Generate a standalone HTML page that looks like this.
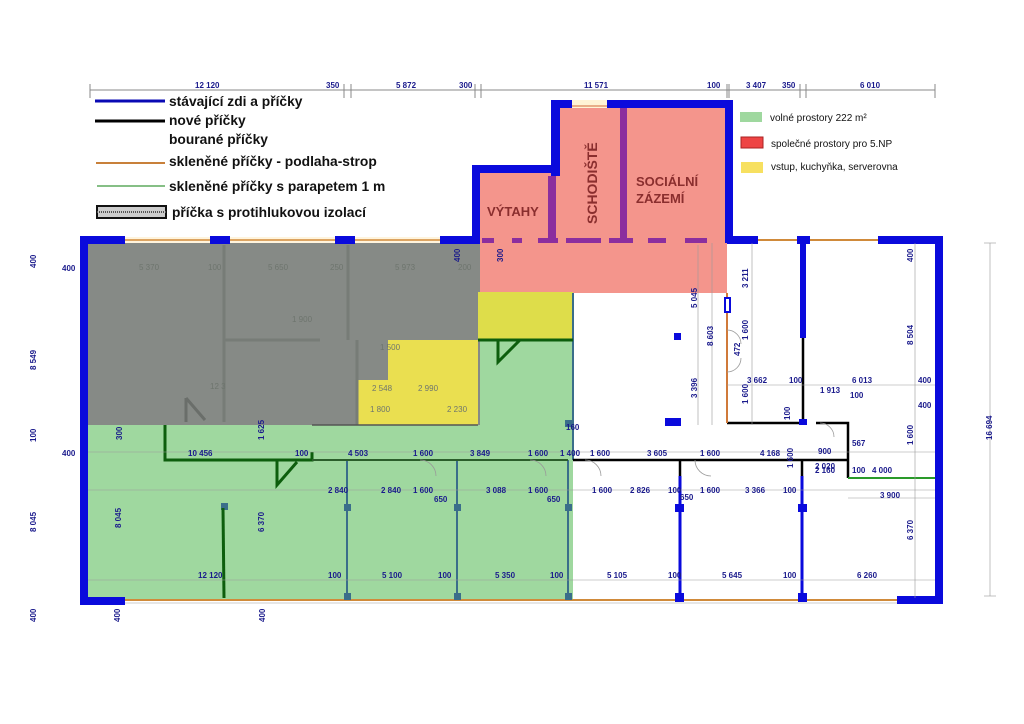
<!DOCTYPE html>
<html><head><meta charset="utf-8"><style>
html,body{margin:0;padding:0;background:#fff;}
svg{display:block;}
.d{font-family:"Liberation Sans",sans-serif;font-size:8px;fill:#1a1a8c;font-weight:bold;}
.g{font-family:"Liberation Sans",sans-serif;font-size:8px;fill:#6e756e;}
.L{font-family:"Liberation Sans",sans-serif;font-size:13.8px;font-weight:bold;fill:#111;}
.R{font-family:"Liberation Sans",sans-serif;font-size:10px;fill:#111;}
.P{font-family:"Liberation Sans",sans-serif;font-size:13px;fill:#8a2e2e;font-weight:bold;}
</style></head><body>
<svg width="1024" height="724" viewBox="0 0 1024 724" xmlns="http://www.w3.org/2000/svg">
<line x1="90" y1="90" x2="935" y2="90" stroke="#888" stroke-width="1"/>
<g stroke="#888"><line x1="90" y1="84" x2="90" y2="98"/><line x1="344" y1="84" x2="344" y2="98"/><line x1="351" y1="84" x2="351" y2="98"/><line x1="475" y1="84" x2="475" y2="98"/><line x1="481" y1="84" x2="481" y2="98"/><line x1="727" y1="84" x2="727" y2="98"/><line x1="729" y1="84" x2="729" y2="98"/><line x1="800" y1="84" x2="800" y2="98"/><line x1="806" y1="84" x2="806" y2="98"/><line x1="935" y1="84" x2="935" y2="98"/></g>
<text class="d" x="195" y="88">12 120</text><text class="d" x="326" y="88">350</text><text class="d" x="396" y="88">5 872</text><text class="d" x="459" y="88">300</text><text class="d" x="584" y="88">11 571</text><text class="d" x="707" y="88">100</text><text class="d" x="746" y="88">3 407</text><text class="d" x="782" y="88">350</text><text class="d" x="860" y="88">6 010</text>
<line x1="95" y1="101" x2="165" y2="101" stroke="#0a0ab4" stroke-width="3"/>
<text class="L" x="169" y="106">stávající zdi a příčky</text>
<line x1="95" y1="121" x2="165" y2="121" stroke="#000" stroke-width="3"/>
<text class="L" x="169" y="125">nové příčky</text>
<text class="L" x="169" y="144">bourané příčky</text>
<line x1="96" y1="163" x2="165" y2="163" stroke="#c8803a" stroke-width="2"/>
<text class="L" x="169" y="166">skleněné příčky - podlaha-strop</text>
<line x1="97" y1="186" x2="165" y2="186" stroke="#5faa5f" stroke-width="1.5"/>
<text class="L" x="169" y="191">skleněné příčky s parapetem 1 m</text>
<rect x="97" y="206" width="69" height="12" fill="#ccc" stroke="#111" stroke-width="2"/>
<line x1="97" y1="212" x2="166" y2="212" stroke="#555" stroke-width="2" stroke-dasharray="1 1"/>
<text class="L" x="172" y="217">příčka s protihlukovou izolací</text>
<rect x="740" y="112" width="22" height="10" fill="#9fd89f"/><text class="R" x="770" y="121">volné prostory 222 m²</text>
<rect x="741" y="137" width="22" height="11" fill="#ee4444" stroke="#a22" stroke-width="1"/><text class="R" x="771" y="147">společné prostory pro 5.NP</text>
<rect x="741" y="162" width="22" height="11" fill="#f7e060"/><text class="R" x="771" y="170">vstup, kuchyňka, serverovna</text>
<rect x="480" y="172" width="247" height="121" fill="#f4958c"/>
<rect x="556" y="104" width="171" height="140" fill="#f4958c"/>
<rect x="551" y="100" width="182" height="8" fill="#0a0adc"/>
<rect x="572" y="100" width="35" height="8" fill="#fff3d6"/><line x1="572" y1="106" x2="607" y2="106" stroke="#d06a3a"/>
<rect x="551" y="100" width="9" height="76" fill="#0a0adc"/>
<rect x="725" y="100" width="8" height="143" fill="#0a0adc"/>
<rect x="548" y="176" width="8" height="66" fill="#8b2e9e"/>
<rect x="620" y="108" width="7" height="134" fill="#8b2e9e"/>
<rect x="472" y="165" width="84" height="8" fill="#0a0adc"/>
<rect x="472" y="165" width="8" height="78" fill="#0a0adc"/>
<g fill="#8b2e9e"><rect x="482" y="238" width="12" height="5"/><rect x="512" y="238" width="10" height="5"/><rect x="538" y="238" width="20" height="5"/><rect x="566" y="238" width="35" height="5"/><rect x="609" y="238" width="24" height="5"/><rect x="648" y="238" width="18" height="5"/><rect x="685" y="238" width="22" height="5"/></g>
<text class="P" x="487" y="216">VÝTAHY</text>
<text class="P" transform="translate(597,224) rotate(-90)" style="font-size:14px">SCHODIŠTĚ</text>
<text class="P" x="636" y="186">SOCIÁLNÍ</text><text class="P" x="636" y="203">ZÁZEMÍ</text>
<rect x="85" y="340" width="488" height="260" fill="#9fd89f"/>
<rect x="85" y="242" width="395" height="183" fill="#868a86"/>
<rect x="478" y="292" width="95" height="48" fill="#dedd4a"/>
<rect x="388" y="340" width="90" height="85" fill="#eadf50"/>
<rect x="357" y="380" width="31" height="45" fill="#eadf50"/>
<g stroke="#777c77" stroke-width="3"><line x1="224" y1="245" x2="224" y2="422"/><line x1="224" y1="340" x2="320" y2="340"/><line x1="348" y1="245" x2="348" y2="340"/><line x1="357" y1="340" x2="357" y2="425"/></g>
<path d="M186 398 L186 422 M186 398 L205 420" stroke="#6a6e6a" stroke-width="3" fill="none"/>
<g class="g"><text x="139" y="270">5 370</text><text x="208" y="270">100</text><text x="268" y="270">5 650</text><text x="330" y="270">250</text><text x="395" y="270">5 973</text><text x="458" y="270">200</text><text x="292" y="322">1 900</text><text x="380" y="350">1 500</text><text x="210" y="389">12 3</text></g>
<rect x="80" y="237" width="400" height="6" fill="#fff4dd"/>
<line x1="125" y1="240" x2="440" y2="240" stroke="#d08a3a" stroke-width="1.5"/>
<g fill="#0a0adc"><rect x="80" y="236" width="45" height="8"/><rect x="210" y="236" width="20" height="8"/><rect x="335" y="236" width="20" height="8"/><rect x="440" y="236" width="40" height="8"/>
<rect x="80" y="236" width="8" height="369"/><rect x="80" y="597" width="45" height="8"/>
<rect x="727" y="236" width="31" height="8"/><rect x="797" y="236" width="13" height="8"/><rect x="878" y="236" width="65" height="8"/>
<rect x="935" y="236" width="8" height="368"/><rect x="897" y="596" width="46" height="8"/>
<rect x="800" y="240" width="6" height="98"/></g>
<line x1="758" y1="240" x2="797" y2="240" stroke="#d08a3a" stroke-width="2"/><line x1="810" y1="240" x2="878" y2="240" stroke="#d08a3a" stroke-width="2"/>
<line x1="125" y1="600" x2="897" y2="600" stroke="#d08a3a" stroke-width="2"/>
<line x1="125" y1="603" x2="897" y2="603" stroke="#ccc" stroke-width="1"/>
<g stroke="#3a6e8a" stroke-width="2"><line x1="347" y1="460" x2="347" y2="600"/><line x1="457" y1="460" x2="457" y2="600"/><line x1="568" y1="460" x2="568" y2="600"/><line x1="573" y1="293" x2="573" y2="460"/></g>
<g fill="#3a6e8a"><rect x="221" y="503" width="7" height="7"/><rect x="344" y="504" width="7" height="7"/><rect x="454" y="504" width="7" height="7"/><rect x="565" y="504" width="7" height="7"/><rect x="565" y="420" width="7" height="7"/><rect x="344" y="593" width="7" height="7"/><rect x="454" y="593" width="7" height="7"/><rect x="565" y="593" width="7" height="7"/></g>
<g stroke="#0d5e0d" stroke-width="3" fill="none"><path d="M165 425 L165 460 L312 460 L312 452"/><line x1="223" y1="508" x2="224" y2="598"/><path d="M277 460 L277 485 L297 462"/><path d="M498 340 L498 362 L520 340"/><line x1="478" y1="340" x2="573" y2="340"/></g>
<line x1="312" y1="460" x2="568" y2="460" stroke="#2b5e2b" stroke-width="2"/>
<line x1="312" y1="425" x2="478" y2="425" stroke="#555" stroke-width="1.5"/>
<g stroke="#000" stroke-width="2.5" fill="none"><line x1="573" y1="460" x2="848" y2="460"/><path d="M727 423 L803 423 L803 338"/><path d="M816 423 L848 423 L848 478"/><line x1="680" y1="460" x2="680" y2="478"/><line x1="802" y1="460" x2="802" y2="478"/></g>
<line x1="848" y1="478" x2="935" y2="478" stroke="#2a9a2a" stroke-width="2"/>
<line x1="727" y1="293" x2="727" y2="423" stroke="#d07a3a" stroke-width="2"/>
<rect x="725" y="298" width="5" height="14" fill="#fff" stroke="#0a0adc" stroke-width="2"/>
<g stroke="#0a0adc" stroke-width="3"><line x1="680" y1="476" x2="680" y2="600"/><line x1="802" y1="476" x2="802" y2="600"/></g>
<g fill="#0a0adc"><rect x="674" y="333" width="7" height="7"/><rect x="665" y="418" width="16" height="8"/><rect x="675" y="504" width="9" height="8"/><rect x="798" y="504" width="9" height="8"/><rect x="675" y="593" width="9" height="9"/><rect x="798" y="593" width="9" height="9"/><rect x="799" y="419" width="8" height="6"/></g>
<g stroke="#999" fill="none" stroke-width="0.8"><path d="M585 460 A16 16 0 0 1 601 476"/><path d="M695 460 A16 16 0 0 0 711 476"/><path d="M820 423 A14 14 0 0 1 834 437"/><path d="M727 330 A14 14 0 0 1 741 344"/><path d="M727 372 A14 14 0 0 0 741 358"/><path d="M530 460 A16 16 0 0 1 546 476"/><path d="M420 460 A16 16 0 0 1 436 476"/></g>
<g stroke="#999" stroke-width="0.6"><line x1="88" y1="452" x2="935" y2="452"/><line x1="88" y1="490" x2="935" y2="490"/><line x1="88" y1="580" x2="935" y2="580"/><line x1="727" y1="385" x2="935" y2="385"/><line x1="698" y1="245" x2="698" y2="425"/><line x1="712" y1="243" x2="712" y2="425"/><line x1="752" y1="243" x2="752" y2="425"/><line x1="915" y1="243" x2="915" y2="598"/><line x1="990" y1="243" x2="990" y2="596"/><line x1="984" y1="243" x2="996" y2="243"/><line x1="984" y1="596" x2="996" y2="596"/><line x1="848" y1="498" x2="935" y2="498"/></g>
<g class="d">
<text x="188" y="456">10 456</text><text x="295" y="456">100</text><text x="348" y="456">4 503</text><text x="413" y="456">1 600</text><text x="470" y="456">3 849</text><text x="528" y="456">1 600</text><text x="560" y="456">1 400</text>
<text x="590" y="456">1 600</text><text x="647" y="456">3 605</text><text x="700" y="456">1 600</text><text x="760" y="456">4 168</text><text x="818" y="454">900</text>
<text x="328" y="493">2 840</text><text x="381" y="493">2 840</text><text x="413" y="493">1 600</text><text x="486" y="493">3 088</text><text x="528" y="493">1 600</text>
<text x="592" y="493">1 600</text><text x="630" y="493">2 826</text><text x="668" y="493">100</text><text x="700" y="493">1 600</text><text x="745" y="493">3 366</text><text x="783" y="493">100</text>
<text x="815" y="469">2 020</text><text x="815" y="473">2 160</text><text x="852" y="473">100</text><text x="872" y="473">4 000</text><text x="880" y="498">3 900</text>
<text x="198" y="578">12 120</text><text x="328" y="578">100</text><text x="382" y="578">5 100</text><text x="438" y="578">100</text><text x="495" y="578">5 350</text><text x="550" y="578">100</text>
<text x="607" y="578">5 105</text><text x="668" y="578">100</text><text x="722" y="578">5 645</text><text x="783" y="578">100</text><text x="857" y="578">6 260</text>
<text x="747" y="383">3 662</text><text x="789" y="383">100</text><text x="852" y="383">6 013</text><text x="918" y="383">400</text><text x="820" y="393">1 913</text><text x="850" y="398">100</text><text x="918" y="408">400</text><text x="852" y="446">567</text>
<text x="434" y="502">650</text><text x="547" y="502">650</text><text x="680" y="500">650</text><text x="566" y="430">160</text>
<text x="62" y="271">400</text><text x="62" y="456">400</text>
<text transform="translate(36,268) rotate(-90)">400</text><text transform="translate(36,370) rotate(-90)">8 549</text><text transform="translate(36,442) rotate(-90)">100</text><text transform="translate(36,532) rotate(-90)">8 045</text><text transform="translate(36,622) rotate(-90)">400</text>
<text transform="translate(120,622) rotate(-90)">400</text><text transform="translate(265,622) rotate(-90)">400</text><text transform="translate(992,440) rotate(-90)">16 694</text>
<text transform="translate(121,528) rotate(-90)">8 045</text><text transform="translate(264,532) rotate(-90)">6 370</text><text transform="translate(122,440) rotate(-90)">300</text><text transform="translate(264,440) rotate(-90)">1 625</text>
<text transform="translate(913,262) rotate(-90)">400</text><text transform="translate(913,345) rotate(-90)">8 504</text><text transform="translate(913,540) rotate(-90)">6 370</text><text transform="translate(913,445) rotate(-90)">1 600</text>
<text transform="translate(697,308) rotate(-90)">5 045</text><text transform="translate(713,346) rotate(-90)">8 603</text><text transform="translate(697,398) rotate(-90)">3 396</text><text transform="translate(748,288) rotate(-90)">3 211</text><text transform="translate(748,340) rotate(-90)">1 600</text><text transform="translate(748,404) rotate(-90)">1 600</text><text transform="translate(740,356) rotate(-90)">472</text><text transform="translate(790,420) rotate(-90)">100</text><text transform="translate(793,468) rotate(-90)">1 600</text>
<text transform="translate(503,262) rotate(-90)">300</text><text transform="translate(460,262) rotate(-90)">400</text>
</g>
<g class="g"><text x="372" y="391">2 548</text><text x="418" y="391">2 990</text><text x="370" y="412">1 800</text><text x="447" y="412">2 230</text></g>
</svg>
</body></html>
